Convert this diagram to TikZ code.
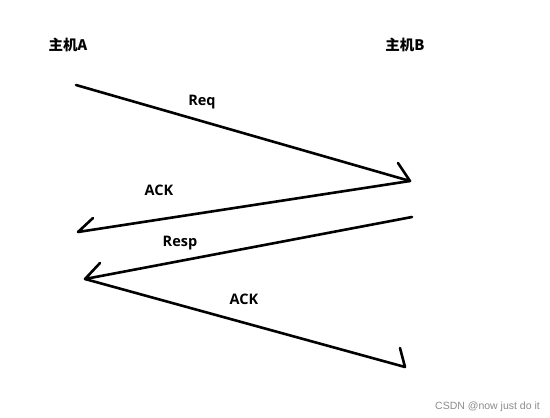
\documentclass[tikz,border=0pt]{standalone}
\usepackage{fontspec}
\setmainfont{Open Sans}
\newfontfamily\cjk{Noto Sans CJK SC}
\newfontfamily\wm{Liberation Sans}
\begin{document}
\begin{tikzpicture}[x=1pt,y=-1pt,
  msg/.style={line width=2.6pt,line cap=round,line join=round,black},
  lbl/.style={font=\bfseries\fontsize{14.5}{16}\selectfont,inner sep=0pt},
  host/.style={font=\cjk\bfseries\fontsize{14.5}{16}\selectfont,inner sep=0pt}]
\useasboundingbox[fill=white] (0,0) rectangle (550,418);
% hosts
\node[host] (hA) at (68,45) {主机A};
\node[host] (hB) at (405,45) {主机B};
% points
\coordinate (p1) at (76,85);
\coordinate (p2) at (410,181);
\coordinate (p3) at (78,232);
\coordinate (p4) at (412,217);
\coordinate (p5) at (85,279);
\coordinate (p6) at (405,367);
\coordinate (b2) at (398,163);
\coordinate (b3) at (93,218);
\coordinate (b5) at (100,263);
\coordinate (b6) at (400,348);
% messages
\draw[msg] (p1) -- (p2) -- (b2);
\draw[msg] (p2) -- (p3) -- (b3);
\draw[msg] (p4) -- (p5) -- (b5);
\draw[msg] (p5) -- (p6) -- (b6);
% labels
\node[lbl] (lReq) at (202,102) {Req};
\node[lbl] (lAck1) at (159,190) {ACK};
\node[lbl] (lResp) at (180,243) {Resp};
\node[lbl] (lAck2) at (244,299) {ACK};
% watermark
\node[font=\wm\fontsize{10.5}{12}\selectfont,text=black!45,anchor=east,inner sep=0pt] (wm) at (540,407) {CSDN @now just do it};
\end{tikzpicture}
\end{document}
